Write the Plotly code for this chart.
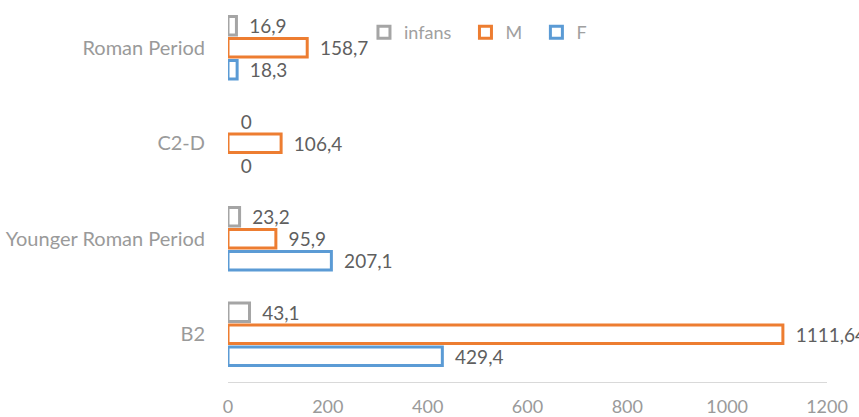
import plotly.graph_objects as go

categories = ["B2", "Younger Roman Period", "C2-D", "Roman Period"]
F_vals = [429.4, 207.1, 0, 18.3]
M_vals = [1111.64, 95.9, 106.4, 158.7]
infans_vals = [43.1, 23.2, 0, 16.9]
x_ticks = [0, 200, 400, 600, 800, 1000, 1200]

def fmt(v):
    s = ("%g" % v)
    return "\u00a0\u00a0" + s.replace(".", ",")

series = [
    ("F", F_vals, "#5B9BD5"),
    ("M", M_vals, "#ED7D31"),
    ("infans", infans_vals, "#A5A5A5"),
]

FONT = "Lato"
AXIS_COL = "#9A9A9A"
fig = go.Figure()
for name, vals, col in series:
    fig.add_trace(go.Bar(
        y=categories, x=vals, name=name + "\u00a0\u00a0", orientation="h",
        marker=dict(color="white",
                    line=dict(color=col, width=[3 if v > 0 else 0 for v in vals])),
        text=[fmt(v) for v in vals], textposition="outside",
        constraintext="none",
        textfont=dict(family=FONT, size=19, color="#5F5F5F"),
        cliponaxis=False,
    ))

fig.update_layout(
    width=859, height=417,
    margin=dict(l=228, r=32, t=0, b=35),
    paper_bgcolor="white", plot_bgcolor="white",
    barmode="group", bargap=0.31, bargroupgap=0.15,
    font=dict(family=FONT, size=18, color=AXIS_COL),
    legend=dict(orientation="h", x=0.227, y=0.915, xanchor="left", yanchor="middle",
                traceorder="reversed", itemwidth=30,
                font=dict(family=FONT, size=18, color="#A0A0A0"),
                bgcolor="rgba(0,0,0,0)"),
    xaxis=dict(range=[0, 1200], tickvals=x_ticks, showgrid=False, zeroline=False,
               showline=True, linecolor="#D9D9D9", linewidth=1,
               ticks="", ticklabelstandoff=8, automargin=False,
               tickfont=dict(family=FONT, size=18, color=AXIS_COL)),
    yaxis=dict(showgrid=False, zeroline=False, showline=False, ticks="",
               ticklabelstandoff=22, automargin=False,
               tickfont=dict(family=FONT, size=20, color=AXIS_COL)),
)
fig.write_html("out.html", config={"displayModeBar": False},
               post_script="document.body.style.margin='0';document.body.style.overflow='hidden';")
